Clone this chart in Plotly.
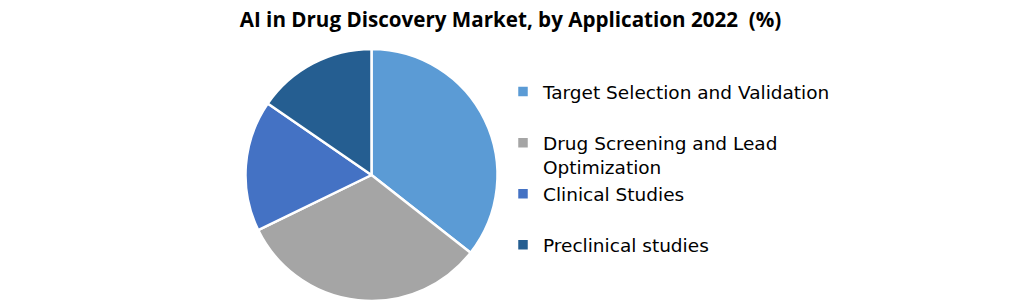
import plotly.graph_objects as go

labels = ["Target Selection and Validation<br> ",
          "Drug Screening and Lead<br>Optimization",
          "Clinical Studies<br> ",
          "Preclinical studies<br> "]
values = [35.6, 32.2, 16.8, 15.4]
colors = ["#5B9BD5", "#A5A5A5", "#4472C4", "#255E91"]
title = "<b>AI in Drug Discovery Market, by Application 2022  (%)</b>"

W, H = 1021, 304
cx, cy, r = 371.5, 175, 126

fig = go.Figure(go.Pie(
    labels=labels, values=values, sort=False, direction="clockwise", rotation=0,
    marker=dict(colors=colors, line=dict(color="white", width=2.5)),
    textinfo="none", hoverinfo="label+percent",
    domain=dict(x=[(cx - r) / W, (cx + r) / W], y=[(H - cy - r) / H, (H - cy + r) / H]),
))
fig.update_layout(
    width=W, height=H, margin=dict(l=0, r=0, t=0, b=0),
    paper_bgcolor="white", plot_bgcolor="white",
    font=dict(family="Open Sans, sans-serif", color="#000000"),
    title=dict(text=title, x=0.5, xanchor="center", y=1 - 20 / H, yanchor="middle",
               font=dict(size=20.6, color="#000000", family="Open Sans, sans-serif")),
    legend=dict(x=503 / W, xanchor="left", y=1 - 73 / H, yanchor="top",
                font=dict(size=18.5, color="#000000", family="DejaVu Sans, sans-serif"),
                valign="top", bgcolor="rgba(0,0,0,0)"),
    showlegend=True,
)
fig.write_html("out.html")
